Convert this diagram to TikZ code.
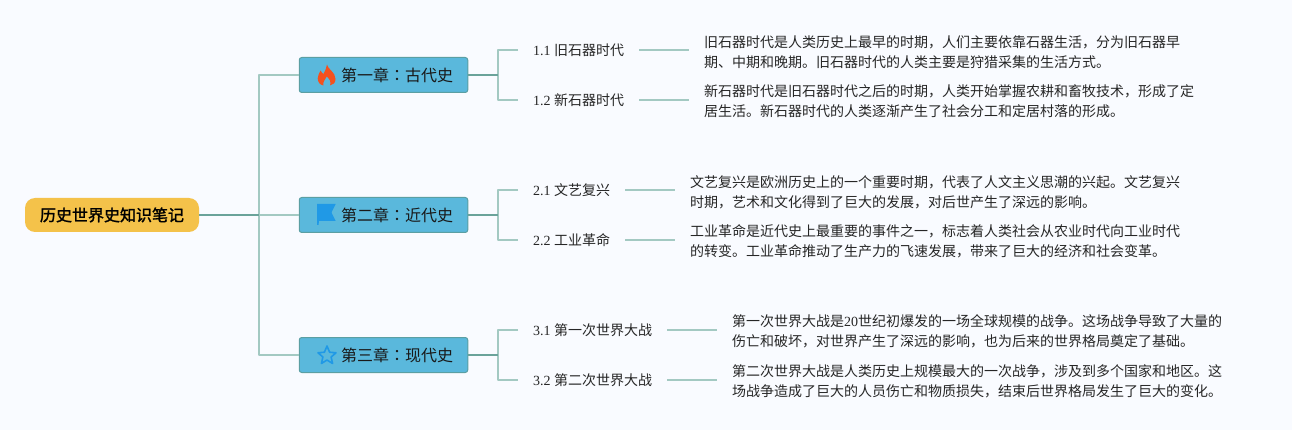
\documentclass[tikz,border=0pt]{standalone}
\usepackage{fontspec}
\setmainfont{Liberation Serif}
\newfontfamily\cjk{Noto Sans CJK SC}
\newfontfamily\cjkb[FakeBold=1.5]{Noto Sans CJK SC}
\newfontfamily\cjkj{Noto Sans CJK JP}
\usetikzlibrary{calc}
\definecolor{bgc}{HTML}{F9FBFF}
\definecolor{rootc}{HTML}{F4C24A}
\definecolor{chapc}{HTML}{5AB8DC}
\definecolor{chapb}{HTML}{5B9FA3}
\definecolor{darkl}{HTML}{6AA39A}
\definecolor{lightl}{HTML}{A3C9C2}
\definecolor{iconb}{HTML}{2099E6}
\definecolor{flame}{HTML}{F4511E}
\tikzset{
 x=1pt,y=-1pt,
 rootn/.style={fill=rootc,rounded corners=10pt,minimum width=174pt,minimum height=34pt,inner sep=0pt,font=\fontsize{16}{16}\selectfont\cjkb,text=black},
 chapn/.style={fill=chapc,draw=chapb,line width=1pt,rounded corners=2.5pt,minimum width=168.5pt,minimum height=35pt,inner sep=0pt},
 chapt/.style={inner sep=0pt,anchor=west,font=\fontsize{16}{16}\selectfont\cjk,text=black!90},
 leafn/.style={inner sep=0pt,anchor=west,font=\fontsize{14}{14}\selectfont,text=black!85},
 descn/.style={inner sep=0pt,anchor=west,align=left,font=\fontsize{14}{20}\selectfont\cjk,text=black!85},
 darkline/.style={draw=darkl,line width=1.5pt},
 lightline/.style={draw=lightl,line width=1.5pt,line join=round},
}
\newcommand{\leaftxt}[2]{{\rmfamily #1} {\cjk #2}}
\begin{document}
\begin{tikzpicture}
\useasboundingbox (0,0) rectangle (1292,430);
\fill[bgc] (0,0) rectangle (1292,430);
% nodes
\node[rootn] (root) at (112,215) {历史世界史知识笔记};
\node[chapn] (c1) at (383.5,75) {};
\node[chapn] (c2) at (383.5,215) {};
\node[chapn] (c3) at (383.5,355) {};
\node[chapt] (c1t) at (341,75.5) {第一章{\cjkj ：}古代史};
\node[chapt] (c2t) at (341,215.5) {第二章{\cjkj ：}近代史};
\node[chapt] (c3t) at (341,355.5) {第三章{\cjkj ：}现代史};
\coordinate (j0) at (259,215);
\coordinate (j1) at (498,75);
\coordinate (j2) at (498,215);
\coordinate (j3) at (498,355);
\node[leafn] (l11) at (533,50) {\leaftxt{1.1}{旧石器时代}};
\node[leafn] (l12) at (533,100) {\leaftxt{1.2}{新石器时代}};
\node[leafn] (l21) at (533,190) {\leaftxt{2.1}{文艺复兴}};
\node[leafn] (l22) at (533,240) {\leaftxt{2.2}{工业革命}};
\node[leafn] (l31) at (533,330) {\leaftxt{3.1}{第一次世界大战}};
\node[leafn] (l32) at (533,380) {\leaftxt{3.2}{第二次世界大战}};
\node[descn] (d11) at (704,52) {旧石器时代是人类历史上最早的时期，人们主要依靠石器生活，分为旧石器早\\期、中期和晚期。旧石器时代的人类主要是狩猎采集的生活方式。};
\node[descn] (d12) at (704,101.5) {新石器时代是旧石器时代之后的时期，人类开始掌握农耕和畜牧技术，形成了定\\居生活。新石器时代的人类逐渐产生了社会分工和定居村落的形成。};
\node[descn] (d21) at (690,192) {文艺复兴是欧洲历史上的一个重要时期，代表了人文主义思潮的兴起。文艺复兴\\时期，艺术和文化得到了巨大的发展，对后世产生了深远的影响。};
\node[descn] (d22) at (690,241.5) {工业革命是近代史上最重要的事件之一，标志着人类社会从农业时代向工业时代\\的转变。工业革命推动了生产力的飞速发展，带来了巨大的经济和社会变革。};
\node[descn] (d31) at (732,331.7) {第一次世界大战是{\rmfamily 20}世纪初爆发的一场全球规模的战争。这场战争导致了大量的\\伤亡和破坏，对世界产生了深远的影响，也为后来的世界格局奠定了基础。};
\node[descn] (d32) at (732,381.5) {第二次世界大战是人类历史上规模最大的一次战争，涉及到多个国家和地区。这\\场战争造成了巨大的人员伤亡和物质损失，结束后世界格局发生了巨大的变化。};
% connectors
\draw[lightline] (j0) -- (c2.west);
\draw[lightline] (c1.west) -- ($(j0|-c1.west)$) -- ($(j0|-c3.west)$) -- (c3.west);
\draw[darkline] (root.east) -- (j0);
\foreach \c/\j/\a/\b in {c1/j1/l11/l12,c2/j2/l21/l22,c3/j3/l31/l32}{
  \draw[lightline] ($(\j|-\a.west)+(20,0)$) -- ($(\j|-\a.west)$) -- ($(\j|-\b.west)$) -- ($(\j|-\b.west)+(20,0)$);
  \draw[darkline] (\c.east) -- (\j);
}
\foreach \a/\b in {l11/d11,l12/d12,l21/d21,l22/d22,l31/d31,l32/d32}{
  \draw[lightline] ($(\a.east)+(15,0)$) -- ($(\a.east-|\b.west)+(-15,0)$);
}
% flame
\fill[flame] (327,64.5) .. controls (327.5,69) and (335.5,72) .. (335.5,79) .. controls (335.5,83) and (333,85) .. (330,85.5) .. controls (331.5,82) and (329.5,79) .. (326.8,76.5) .. controls (325.5,79.5) and (322.5,81.5) .. (323.5,85.5) .. controls (320,85) and (317.7,82) .. (317.7,78.5) .. controls (317.7,75) and (319.5,73) .. (320.5,70.5) .. controls (321.5,72) and (322.5,73.5) .. (323.5,74) .. controls (325,71) and (326.5,68) .. (327,64.5) -- cycle;
% flag
\fill[iconb] (317,204) -- (335.7,204) -- (331.5,212.5) -- (335.7,221) -- (319,221) -- (318.5,225) -- (317,225) -- cycle;
% star
\draw[iconb,line width=1.6pt,line join=round] (327,346) -- (329.6,352.2) -- (336,352.8) -- (331.1,357) -- (332.6,363.5) -- (327,360) -- (321.4,363.5) -- (322.9,357) -- (318,352.8) -- (324.4,352.2) -- cycle;
\end{tikzpicture}
\end{document}
